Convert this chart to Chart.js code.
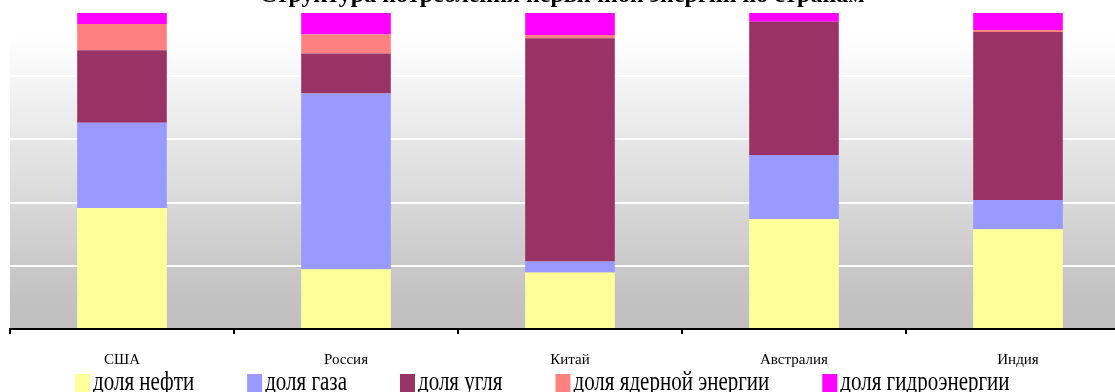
<!DOCTYPE html>
<html>
<head>
<meta charset="utf-8">
<script src="https://cdn.jsdelivr.net/npm/chart.js@4.4.1/dist/chart.umd.min.js"></script>
<style>
  html, body { margin: 0; padding: 0; background: #ffffff; overflow: hidden; width: 1115px; height: 392px; }
  #wrap { position: absolute; left: 0; top: 0; width: 1140px; height: 392px; }
</style>
</head>
<body>
<div id="wrap"><canvas id="c" width="1140" height="392"></canvas></div>
<script>
// Shares of primary energy consumption, percent
const countries    = ['США', 'Россия', 'Китай', 'Австралия', 'Индия'];
const oilShare     = [38.3, 18.9, 17.9, 34.8, 31.6];
const gasShare     = [27.0, 55.6,  3.5, 20.3,  9.2];
const coalShare    = [22.9, 12.7, 70.6, 42.1, 53.2];
const nuclearShare = [ 8.3,  6.0,  1.0,  0.0,  0.6];
const hydroShare   = [ 3.5,  6.8,  7.0,  2.8,  5.4];
const seriesNames  = ['доля нефти', 'доля газа', 'доля угля', 'доля ядерной энергии', 'доля гидроэнергии'];
const seriesColors = ['#FFFF99', '#9999FF', '#993366', '#FF8080', '#FF00FF'];
const titleText    = 'Структура потребления первичной энергии по странам';
const yTicks       = [0, 20, 40, 60, 80, 100];

const seriesValues = [oilShare, gasShare, coalShare, nuclearShare, hydroShare];

// Grey-to-white gradient behind the plot area
const plotBackground = {
  id: 'plotBackground',
  beforeDraw(chart) {
    const { ctx, chartArea: a } = chart;
    const g = ctx.createLinearGradient(0, a.top, 0, a.bottom);
    g.addColorStop(0, '#ffffff');
    g.addColorStop(0.09, '#fefefe');
    g.addColorStop(0.9, '#c2c2c2');
    g.addColorStop(1, '#c0c0c0');
    ctx.save();
    ctx.fillStyle = g;
    ctx.fillRect(a.left, a.top, a.right - a.left, a.bottom - a.top);
    ctx.restore();
  }
};

// Title line along the top edge
const topTitle = {
  id: 'topTitle',
  afterDraw(chart) {
    const ctx = chart.ctx;
    ctx.save();
    ctx.font = 'bold 24px "Liberation Serif"';
    ctx.fillStyle = '#000000';
    ctx.textAlign = 'center';
    ctx.textBaseline = 'alphabetic';
    ctx.fillText(titleText, 562, 2);
    ctx.restore();
  }
};

// Row of legend swatches below the category labels
const bottomLegend = {
  id: 'bottomLegend',
  afterDraw(chart) {
    const ctx = chart.ctx;
    ctx.save();
    ctx.font = '21px "Liberation Serif"';
    let x = 75;
    chart.data.datasets.forEach(ds => {
      ctx.fillStyle = ds.backgroundColor;
      ctx.fillRect(x, 374, 15, 20);
      const w = ctx.measureText(ds.label).width;
      ctx.save();
      ctx.translate(x + 18, 390);
      ctx.scale(1, 1.25);
      ctx.fillStyle = '#000000';
      ctx.textBaseline = 'alphabetic';
      ctx.fillText(ds.label, 0, 0);
      ctx.restore();
      x += 18 + w + 53;
    });
    ctx.restore();
  }
};

new Chart(document.getElementById('c'), {
  type: 'bar',
  data: {
    labels: countries,
    datasets: seriesNames.map((name, i) => ({
      label: name,
      data: seriesValues[i],
      backgroundColor: seriesColors[i],
      borderWidth: 0,
      categoryPercentage: 1.0,
      barPercentage: 0.4
    }))
  },
  options: {
    responsive: false,
    animation: false,
    devicePixelRatio: 1,
    layout: { padding: { left: 10, right: 10, top: 13, bottom: 6 } },
    plugins: {
      legend: { display: false },
      title: { display: false },
      tooltip: { enabled: false }
    },
    scales: {
      x: {
        stacked: true,
        z: 1,
        border: { display: true, color: '#000000', width: 2 },
        grid: { drawOnChartArea: false, drawTicks: true, tickLength: 5, color: '#000000', lineWidth: 2, offset: true },
        ticks: {
          color: '#000000',
          padding: 17,
          font: { family: '"Liberation Serif"', size: 15 }
        }
      },
      y: {
        stacked: true,
        min: 0,
        max: 100,
        afterBuildTicks(scale) { scale.ticks = yTicks.map(v => ({ value: v })); },
        border: { display: false },
        grid: {
          drawTicks: false,
          lineWidth: 2,
          color: c => (c.tick && c.tick.value === 0) ? 'rgba(0,0,0,0)' : '#ffffff'
        },
        ticks: { display: false }
      }
    }
  },
  plugins: [plotBackground, topTitle, bottomLegend]
});
</script>
</body>
</html>
